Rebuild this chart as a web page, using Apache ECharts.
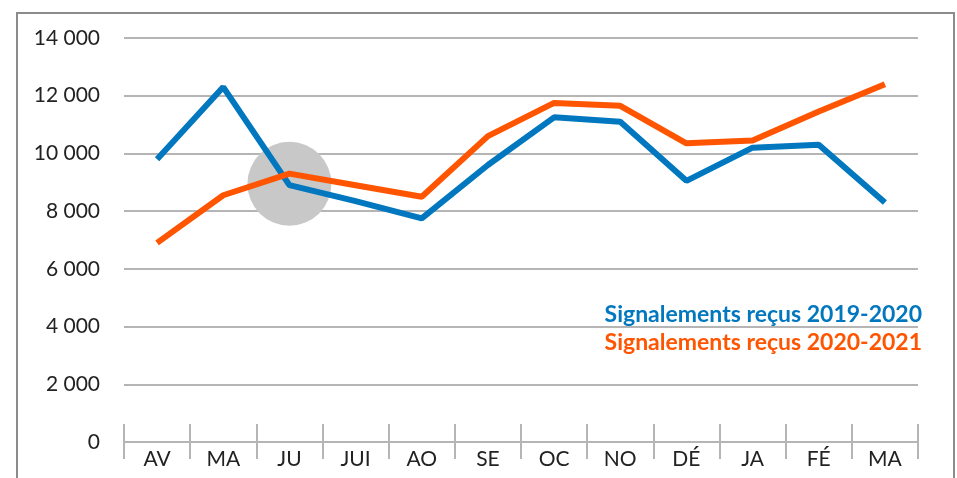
<!DOCTYPE html>
<html>
<head>
<meta charset="utf-8">
<script src="https://cdn.jsdelivr.net/npm/echarts@6/dist/echarts.min.js"></script>
<style>
  html, body { margin: 0; padding: 0; background: #fff; }
  #chart { width: 957px; height: 478px; }
</style>
</head>
<body>
<div id="chart"></div>
<script>
// mois (abrégés comme sur l'original)
const months = ['AV', 'MA', 'JU', 'JUI', 'AO', 'SE', 'OC', 'NO', 'DÉ', 'JA', 'FÉ', 'MA'];
const yTicks = [0, 2000, 4000, 6000, 8000, 10000, 12000, 14000];

const nameA = 'Signalements reçus 2019-2020';
const nameB = 'Signalements reçus 2020-2021';
const valuesA = [9800, 12300, 8900, 8350, 7750, 9600, 11250, 11100, 9050, 10200, 10300, 8300];
const valuesB = [6900, 8550, 9300, 8900, 8500, 10600, 11750, 11650, 10350, 10450, 11450, 12400];

// cercle gris de mise en avant
const highlight = [[2, 8950]];

const colors = ['#0077be', '#ff5500'];
const font = 'Lato';

const chart = echarts.init(document.getElementById('chart'));

const option = {
  animation: false,
  textStyle: { fontFamily: font },
  grid: { left: 124, right: 39, top: 38, bottom: 36 },
  graphic: [
    {
      type: 'rect',
      silent: true,
      shape: { x: 17, y: 13, width: 937, height: 490 },
      style: { fill: 'none', stroke: '#8c8c8c', lineWidth: 2 }
    }
  ],
  legend: {
    orient: 'vertical',
    right: 30,
    top: 301,
    padding: 0,
    align: 'right',
    icon: 'none',
    itemWidth: 0,
    itemHeight: 10,
    itemGap: 0,
    selectedMode: false,
    textStyle: { fontSize: 23, fontWeight: 'bold', fontFamily: font, lineHeight: 28 },
    data: [
      { name: nameA, textStyle: { color: colors[0] } },
      { name: nameB, textStyle: { color: colors[1] } }
    ]
  },
  xAxis: [
    {
      type: 'category',
      data: months,
      boundaryGap: true,
      axisLine: { lineStyle: { color: '#b5b5b5', width: 2 } },
      axisTick: { show: true, length: 17, lineStyle: { color: '#b5b5b5', width: 2 } },
      axisLabel: { color: '#222', fontSize: 21, margin: 7, fontFamily: font }
    },
    {
      type: 'category',
      data: months,
      position: 'bottom',
      boundaryGap: true,
      axisLine: { show: false },
      axisTick: { show: true, inside: true, length: 18, lineStyle: { color: '#b5b5b5', width: 2 } },
      axisLabel: { show: false }
    }
  ],
  yAxis: {
    type: 'value',
    min: yTicks[0],
    max: yTicks[yTicks.length - 1],
    interval: 2000,
    axisLine: { show: false },
    axisTick: { show: false },
    splitLine: { lineStyle: { color: '#b5b5b5', width: 2 } },
    axisLabel: {
      color: '#222',
      fontSize: 21,
      margin: 24,
      fontFamily: font,
      formatter: v => String(v).replace(/\B(?=(\d{3})+(?!\d))/g, ' ')
    }
  },
  series: [
    {
      type: 'scatter',
      data: highlight,
      symbolSize: 84,
      silent: true,
      itemStyle: { color: '#c8c8c8', opacity: 1 },
      z: 1
    },
    {
      name: nameA,
      type: 'line',
      data: valuesA,
      showSymbol: false,
      lineStyle: { color: colors[0], width: 6 },
      itemStyle: { color: colors[0] },
      z: 3
    },
    {
      name: nameB,
      type: 'line',
      data: valuesB,
      showSymbol: false,
      lineStyle: { color: colors[1], width: 6 },
      itemStyle: { color: colors[1] },
      z: 4
    }
  ]
};

chart.setOption(option);
</script>
</body>
</html>
